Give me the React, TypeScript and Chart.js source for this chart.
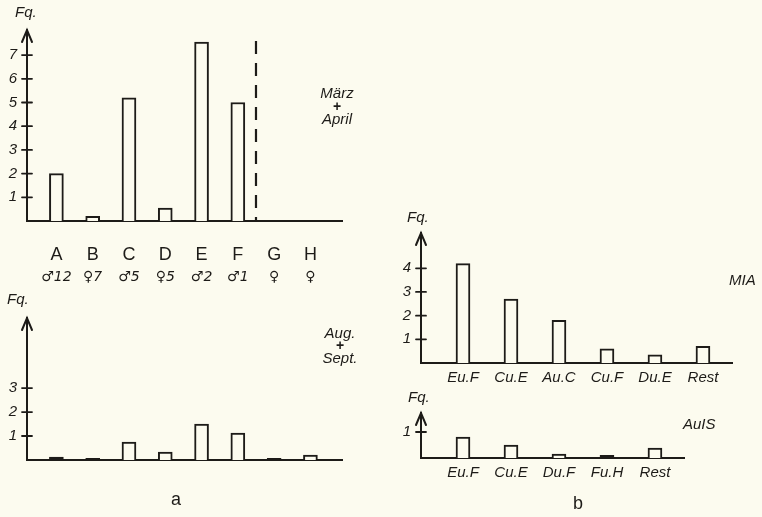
import React, { useEffect, useRef } from 'react';
import { Chart, registerables } from 'chart.js';

Chart.register(...registerables);

// ---------- data ----------
const groupLetters = ['A', 'B', 'C', 'D', 'E', 'F', 'G', 'H'];
const groupSex = ['♂12', '♀7', '♂5', '♀5', '♂2', '♂1', '♀', '♀'];
const marchApril = [2.0, 0.2, 5.2, 0.55, 7.55, 5.0, 0, 0];
const augSept = [0.12, 0.07, 0.75, 0.33, 1.5, 1.12, 0.07, 0.2];
const marchAprilTicks = [1, 2, 3, 4, 5, 6, 7];
const augSeptTicks = [1, 2, 3];

const miaCats = ['Eu.F', 'Cu.E', 'Au.C', 'Cu.F', 'Du.E', 'Rest'];
const miaValues = [4.2, 2.7, 1.8, 0.6, 0.35, 0.7];
const miaTicks = [1, 2, 3, 4];

const auisCats = ['Eu.F', 'Cu.E', 'Du.F', 'Fu.H', 'Rest'];
const auisValues = [0.8, 0.5, 0.15, 0.1, 0.38];
const auisTicks = [1];

// ---------- style ----------
const W = 762;
const H = 517;
const INK = '#1d1b18';
const BG = '#fcfbef';
const FAMILY = '"Liberation Sans", "DejaVu Sans", sans-serif';
const tickFont = { family: FAMILY, size: 15, style: 'italic' as const };
const letterFont = { family: FAMILY, size: 18, style: 'normal' as const };
const sexFont = { family: '"DejaVu Sans", sans-serif', size: 14, style: 'italic' as const };
const catFont = { family: FAMILY, size: 15, style: 'italic' as const };
const ITAL = `italic 15px ${FAMILY}`;
const PLUS = `bold 14px ${FAMILY}`;
const UPRIGHT = `18px ${FAMILY}`;

type Row = { labels: string[]; font: any; height: number; padding: number };
type Txt = { text: string; x: number; y: number; align: CanvasTextAlign; font: string };
type Panel = {
  area: { left: number; top: number; right: number; bottom: number };
  xMin: number;
  xMax: number;
  yMax: number;
  values: number[];
  yTicks: number[];
  rows: Row[];
  texts: Txt[];
  dashAt?: number;
  dashTop?: number;
};

const panels: Panel[] = [
  {
    area: { left: 27, top: 30, right: 342, bottom: 221 },
    xMin: 0.19,
    xMax: 8.87,
    yMax: 8.06,
    values: marchApril,
    yTicks: marchAprilTicks,
    rows: [
      { labels: groupLetters, font: letterFont, height: 46, padding: 23 },
      { labels: groupSex, font: sexFont, height: 0, padding: 2 },
    ],
    texts: [
      { text: 'Fq.', x: 15, y: 13, align: 'left', font: ITAL },
      { text: 'März', x: 337, y: 94, align: 'center', font: ITAL },
      { text: '+', x: 337, y: 107, align: 'center', font: PLUS },
      { text: 'April', x: 337, y: 120, align: 'center', font: ITAL },
    ],
    dashAt: 6.5,
    dashTop: 41,
  },
  {
    area: { left: 27, top: 318, right: 342, bottom: 460 },
    xMin: 0.19,
    xMax: 8.87,
    yMax: 5.92,
    values: augSept,
    yTicks: augSeptTicks,
    rows: [],
    texts: [
      { text: 'Fq.', x: 7, y: 300, align: 'left', font: ITAL },
      { text: 'Aug.', x: 340, y: 334, align: 'center', font: ITAL },
      { text: '+', x: 340, y: 346, align: 'center', font: PLUS },
      { text: 'Sept.', x: 340, y: 359, align: 'center', font: ITAL },
      { text: 'a', x: 176, y: 500, align: 'center', font: UPRIGHT },
    ],
  },
  {
    area: { left: 421, top: 233, right: 732, bottom: 363 },
    xMin: 0.125,
    xMax: 6.605,
    yMax: 5.49,
    values: miaValues,
    yTicks: miaTicks,
    rows: [{ labels: miaCats, font: catFont, height: 0, padding: 6 }],
    texts: [
      { text: 'Fq.', x: 407, y: 218, align: 'left', font: ITAL },
      { text: 'MIA', x: 729, y: 281, align: 'left', font: ITAL },
    ],
  },
  {
    area: { left: 421, top: 413, right: 684, bottom: 458 },
    xMin: 0.125,
    xMax: 5.605,
    yMax: 1.73,
    values: auisValues,
    yTicks: auisTicks,
    rows: [{ labels: auisCats, font: catFont, height: 0, padding: 6 }],
    texts: [
      { text: 'Fq.', x: 408, y: 398, align: 'left', font: ITAL },
      { text: 'AuIS', x: 683, y: 425, align: 'left', font: ITAL },
      { text: 'b', x: 578, y: 504, align: 'center', font: UPRIGHT },
    ],
  },
];

function buildConfig(p: Panel): any {
  const bottomSpace = H - p.area.bottom;
  const setTicks = (s: any) => {
    s.ticks = p.values.map((_, i) => ({ value: i + 1 }));
  };
  const xAxis = (row: Row | undefined, height: number, weight: number, border: boolean) => ({
    type: 'linear',
    position: 'bottom',
    min: p.xMin,
    max: p.xMax,
    bounds: 'data',
    offset: false,
    weight,
    afterBuildTicks: setTicks,
    afterFit: (s: any) => {
      s.height = height;
    },
    grid: { display: false, drawTicks: false, offset: false },
    border: { display: border, color: INK, width: 2 },
    ticks: {
      display: !!row,
      autoSkip: false,
      maxRotation: 0,
      padding: row ? row.padding : 0,
      color: INK,
      font: row ? row.font : tickFont,
      callback: (v: number) => (row ? row.labels[Math.round(v) - 1] ?? '' : ''),
    },
  });

  const scales: any = {
    y: {
      type: 'linear',
      position: 'left',
      min: 0,
      max: p.yMax,
      bounds: 'data',
      afterBuildTicks: (s: any) => {
        s.ticks = p.yTicks.map((v) => ({ value: v }));
      },
      afterFit: (s: any) => {
        s.width = p.area.left;
      },
      grid: { display: false, drawTicks: false },
      border: { display: true, color: INK, width: 2 },
      ticks: {
        padding: 10,
        color: INK,
        font: tickFont,
        callback: (v: number) => (p.yTicks.includes(v) ? String(v) : ''),
      },
    },
  };

  if (p.rows.length === 2) {
    scales.x = xAxis(p.rows[0], p.rows[0].height, 0, true);
    scales.x2 = xAxis(p.rows[1], bottomSpace - p.rows[0].height, 1, false);
  } else {
    scales.x = xAxis(p.rows[0], bottomSpace, 0, true);
  }

  const decor = {
    id: 'decor',
    afterDraw(chart: any) {
      const ctx = chart.ctx as CanvasRenderingContext2D;
      const ys = chart.scales.y;
      const xs = chart.scales.x;
      const ax = ys.right;
      const top = chart.chartArea.top;
      ctx.save();
      ctx.strokeStyle = INK;
      ctx.fillStyle = INK;
      ctx.lineCap = 'round';
      // arrow head
      ctx.lineWidth = 2;
      ctx.beginPath();
      ctx.moveTo(ax - 5, top + 12);
      ctx.lineTo(ax, top);
      ctx.lineTo(ax + 5, top + 12);
      ctx.stroke();
      // crossing tick marks
      ctx.lineWidth = 1.8;
      p.yTicks.forEach((v) => {
        const y = ys.getPixelForValue(v);
        ctx.beginPath();
        ctx.moveTo(ax - 5, y);
        ctx.lineTo(ax + 5, y);
        ctx.stroke();
      });
      // dashed separator
      if (p.dashAt !== undefined) {
        const x = xs.getPixelForValue(p.dashAt);
        ctx.lineWidth = 2.2;
        ctx.lineCap = 'butt';
        ctx.setLineDash([13, 9]);
        ctx.beginPath();
        ctx.moveTo(x, p.dashTop ?? top);
        ctx.lineTo(x, chart.chartArea.bottom);
        ctx.stroke();
        ctx.setLineDash([]);
      }
      // texts
      ctx.textBaseline = 'middle';
      p.texts.forEach((t) => {
        ctx.font = t.font;
        ctx.textAlign = t.align;
        ctx.fillText(t.text, t.x, t.y);
      });
      ctx.restore();
    },
  };

  return {
    type: 'bar',
    data: {
      datasets: [
        {
          data: p.values.map((v, i) => ({ x: i + 1, y: v })),
          // very low bars print as solid ink stubs in the original
          backgroundColor: (c: any) => (c.raw && c.raw.y > 0 && c.raw.y < 0.15 ? INK : BG),
          borderColor: INK,
          borderWidth: 2,
          borderSkipped: 'start',
          barThickness: 14,
        },
      ],
    },
    options: {
      animation: false,
      responsive: false,
      maintainAspectRatio: false,
      devicePixelRatio: 1,
      layout: {
        autoPadding: false,
        padding: { left: 0, top: p.area.top, right: W - p.area.right, bottom: 0 },
      },
      plugins: { legend: { display: false }, tooltip: { enabled: false } },
      scales,
    },
    plugins: [decor],
  };
}

function PanelChart({ panel }: { panel: Panel }) {
  const ref = useRef<HTMLCanvasElement | null>(null);
  useEffect(() => {
    if (!ref.current) return;
    const chart = new Chart(ref.current, buildConfig(panel));
    return () => chart.destroy();
  }, [panel]);
  return (
    <canvas
      ref={ref}
      width={W}
      height={H}
      style={{ position: 'absolute', left: 0, top: 0, width: W, height: H }}
    />
  );
}

export default function App() {
  return (
    <div
      style={{
        position: 'absolute',
        left: 0,
        top: 0,
        width: W,
        height: H,
        background: BG,
        overflow: 'hidden',
      }}
    >
      {panels.map((p, i) => (
        <PanelChart key={i} panel={p} />
      ))}
    </div>
  );
}
